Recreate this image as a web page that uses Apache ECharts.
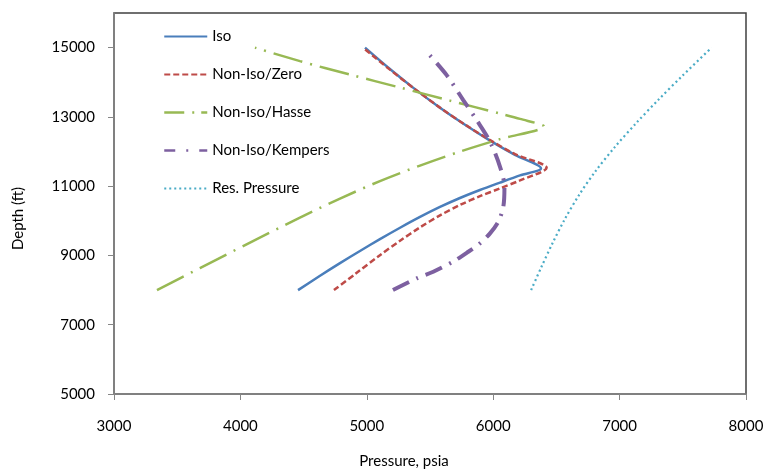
<!DOCTYPE html>
<html>
<head>
<meta charset="utf-8">
<script src="https://cdn.jsdelivr.net/npm/echarts@6/dist/echarts.min.js"></script>
<style>
html,body{margin:0;padding:0;background:#fff;}
#c{width:764px;height:469px;}
</style>
</head>
<body>
<div id="c"></div>
<script>
// Pressure (psia) and depth (ft) pairs
var isoP = [4456,4630,4788,4946,5104,5263,5421,5579,5737,5895,6054,6212,6378,6172,5975,5777,5579,5381,5183,4986];
var isoD = [8000,8414,8778,9130,9470,9799,10111,10400,10659,10890,11104,11312,11514,11903,12316,12772,13266,13802,14382,15000];

var zeroP = [4740,4907,5104,5263,5421,5579,5737,5895,6054,6212,6423,6172,5975,5777,5579,5381,5183,4970];
var zeroD = [8000,8460,9009,9424,9811,10157,10457,10711,10937,11167,11531,11926,12330,12778,13268,13802,14365,15000];

var hasseP = [3340,3680,4076,4471,4788,5104,5421,5737,6054,6402,6212,6054,5658,5263,4867,4471,4115];
var hasseD = [8000,8636,9372,10094,10642,11147,11595,11999,12359,12726,12942,13095,13470,13846,14221,14610,15000];

var kempersP = [5207,5395,5526,5690,5803,5895,5975,6040,6080,6089,6054,5975,5869,5763,5632,5474];
var kempersD = [8000,8339,8530,8838,9107,9349,9638,9973,10405,10983,11560,12281,12908,13485,14206,14879];

var resP = [6300,6381,6470,6567,6679,6810,6962,7131,7312,7502,7727];
var resD = [8000,8665,9358,10051,10743,11436,12128,12821,13514,14206,15000];

var seriesNames = ['Iso','Non-Iso/Zero','Non-Iso/Hasse','Non-Iso/Kempers','Res. Pressure'];
var xTicks = [3000,4000,5000,6000,7000,8000];
var yTicks = [5000,7000,9000,11000,13000,15000];
var xTitle = 'Pressure, psia';
var yTitle = 'Depth (ft)';

// Build [pressure, depth] pairs; for curves with a sharp turning point,
// repeat the max-pressure vertex so the smoothed path keeps its corner.
function pairs(p, d, sharp){
  var out = [];
  var iMax = p.indexOf(Math.max.apply(null, p));
  p.forEach(function(v,i){
    out.push([v, d[i]]);
    if (sharp && i === iMax) out.push([v, d[i]]);
  });
  return out;
}
function plain(v){ return String(v); }

var FONT = 'Lato';
var SM = 0.3;
var chart = echarts.init(document.getElementById('c'), null, {renderer:'canvas'});
chart.setOption({
  animation: false,
  backgroundColor: '#ffffff',
  grid: {left:114, top:13, right:18, bottom:75, outerBoundsMode:'none', containLabel:false,
         show:true, borderColor:'#404040', borderWidth:1.5, backgroundColor:'transparent'},
  legend: {
    orient:'vertical', left:158, top:24, itemWidth:43, itemHeight:14, itemGap:23,
    itemStyle:{opacity:0},
    textStyle:{fontFamily:FONT, fontSize:15, color:'#000'},
    data:[
      {name:seriesNames[0]},
      {name:seriesNames[1]},
      {name:seriesNames[2], lineStyle:{type:[20,8,2,7], width:2.5}},
      {name:seriesNames[3], lineStyle:{type:[11,11,2,11], width:2.5}},
      {name:seriesNames[4]}
    ]
  },
  xAxis: {
    type:'value', min:3000, max:8000, interval:1000,
    name:xTitle, nameLocation:'middle', nameGap:60,
    nameTextStyle:{fontFamily:FONT, fontSize:15, color:'#000', padding:[0,52,0,0]},
    axisLine:{show:true, lineStyle:{color:'#868686', width:1.5}},
    axisTick:{show:true, length:6, lineStyle:{color:'#868686'}},
    axisLabel:{fontFamily:FONT, fontSize:15, color:'#000', margin:25, customValues:xTicks, formatter:plain},
    splitLine:{show:false}
  },
  yAxis: {
    type:'value', min:5000, max:16000, interval:1000,
    name:yTitle, nameLocation:'middle', nameGap:88,
    nameTextStyle:{fontFamily:FONT, fontSize:15, color:'#000', padding:[0,30,0,0]},
    axisLine:{show:true, lineStyle:{color:'#868686', width:1.5}},
    axisTick:{show:true, length:6, lineStyle:{color:'#868686'}, customValues:yTicks},
    axisLabel:{fontFamily:FONT, fontSize:15, color:'#000', margin:19, customValues:yTicks, formatter:plain},
    splitLine:{show:false}
  },
  series: [
    {name:seriesNames[0], type:'line', symbol:'none', smooth:SM, data:pairs(isoP, isoD, true),
      lineStyle:{color:'#4A7EBB', width:2.5, type:'solid'}, itemStyle:{color:'#4A7EBB'}},
    {name:seriesNames[1], type:'line', symbol:'none', smooth:SM, data:pairs(zeroP, zeroD, true),
      lineStyle:{color:'#BE4B48', width:2.5, type:[6,3]}, itemStyle:{color:'#BE4B48'}},
    {name:seriesNames[2], type:'line', symbol:'none', smooth:SM, data:pairs(hasseP, hasseD, true),
      lineStyle:{color:'#98B954', width:2.5, type:[30,8,2,8]}, itemStyle:{color:'#98B954'}},
    {name:seriesNames[3], type:'line', symbol:'none', smooth:SM, data:pairs(kempersP, kempersD, false),
      lineStyle:{color:'#7D60A0', width:4, type:[18,8,2,8]}, itemStyle:{color:'#7D60A0'}},
    {name:seriesNames[4], type:'line', symbol:'none', smooth:SM, data:pairs(resP, resD, false),
      lineStyle:{color:'#4BACC6', width:2.2, type:[2,3]}, itemStyle:{color:'#4BACC6'}}
  ]
});
</script>
</body>
</html>
